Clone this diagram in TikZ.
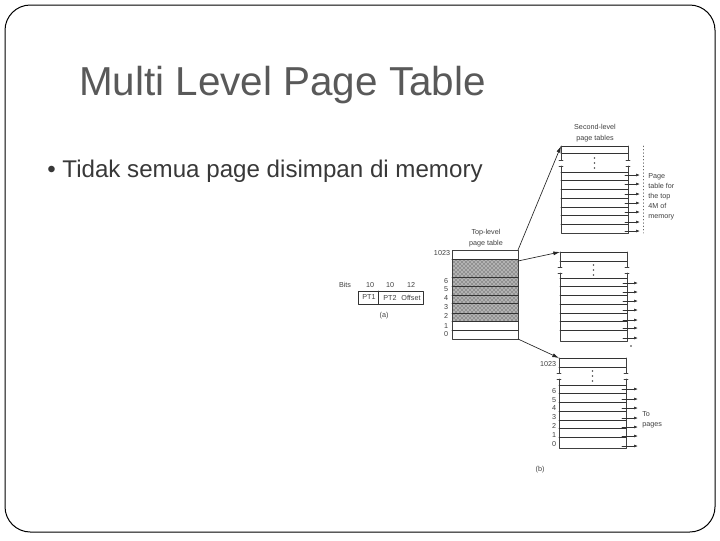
\documentclass[tikz,border=0pt]{standalone}
\usepackage{fontspec}
\setmainfont{Liberation Sans}
\usetikzlibrary{patterns,arrows.meta}
\tikzset{
  titletext/.style={anchor=base west,text=black!65,font=\fontsize{30.3}{33}\selectfont,inner sep=0pt},
  bullettext/.style={anchor=base west,text=black!78,font=\fontsize{18.1}{22}\selectfont,inner sep=0pt},
  small/.style={text=black!75,font=\fontsize{5.4}{6.6}\selectfont,inner sep=0pt,align=center},
  row/.style={line width=0.6pt,black!80},
  side/.style={line width=0.7pt,black!75},
  entry/.style={line width=0.5pt,black!80,-{Latex[length=3pt,width=2.2pt]}},
  link/.style={line width=0.5pt,black!85,-{Latex[length=5pt,width=3pt]}},
  hatch/.style={pattern=crosshatch dots,pattern color=black!85},
}
\begin{document}
\begin{tikzpicture}[x=0.75pt,y=-0.75pt,line cap=round,line join=round,>=latex]
  \useasboundingbox (0,0) rectangle (720,540);
  \draw[line width=0.75pt,rounded corners=19pt] (5,5) rectangle (715,532);
  \node[titletext] (title) at (79,95) {Multi Level Page Table};
  \node[bullettext] (bullet) at (47,177) {• Tidak semua page disimpan di memory};

  % address split
  \draw[line width=0.6pt,black!80] (358,291) rectangle (423,304);
  \draw[line width=0.6pt,black!80] (378,291) -- (378,304);
  \node[small] (bits) at (345,285) {Bits};
  \foreach \x/\t in {370/10,390/10,411/12}
    \node[small] at (\x,285) {\t};
  \foreach \x/\t in {369/PT1,390/PT2,411/Offset}
    \node[small] at (\x,297.5) {\t};
  \node[small] (parta) at (384,316) {(a)};

  % top-level table
  \fill[black!30] (452,260) rectangle (518,321);
  \fill[hatch] (452,260) rectangle (518,321);
  \draw[side] (452,250) rectangle (518,339);
  \foreach \y in {259,277,286,295,303,313,321,330}
    \draw[row] (452,\y) -- (518,\y);
  \coordinate (topa) at (518,250);
  \coordinate (topb) at (518,261);
  \coordinate (topc) at (518,339);
  \node[small] (toplabel) at (486,238) {Top-level\\[1.2pt]page table};
  \node[small] at (442,253) {1023};
  \foreach \y/\t in {281/6,289/5,298/4,307/3,316/2,326/1,334/0}
    \node[small] at (446,\y) {\t};

  % second-level tables
  \foreach \xa/\xb/\ya/\yb/\yc/\ye/\yf in {561/628/146/153/163/172/233,560/627/252/261/270/278/341,559/626/358/367/376/385/448} {
    \draw[row] (\xa,\ya) -- (\xb,\ya);
    \draw[row] (\xa,\yb) -- (\xb,\yb);
    \draw[side] (\xa,\ya) -- (\xa,\yc-3) (\xa,\yc+3) -- (\xa,\yf) -- (\xb,\yf) -- (\xb,\yc+3) (\xb,\yc-3) -- (\xb,\ya);
    \foreach \i in {0,...,6}
      \draw[row] (\xa,\ye+\i*8.75) -- (\xb,\ye+\i*8.75);
    \foreach \x in {\xa,\xb}
      \draw[line width=0.5pt,black!75] (\x-2,\yc-3) -- (\x+2,\yc-3) (\x-2,\yc+3) -- (\x+2,\yc+3);
    \foreach \d in {-5,0,5}
      \fill[black!70] (\xa/2+\xb/2,\yc+\d) circle (0.7pt);
  }
  \coordinate (seca) at (561,146);
  \coordinate (secb) at (560,252);
  \coordinate (secc) at (559,358);
  \draw[link] (topa) -- (seca);
  \draw[link] (topb) -- (secb);
  \draw[link] (topc) -- (secc);

  % page arrows
  \foreach \n/\xa/\xb/\y in {a/625/640/175,b/625/640/184,c/625/640/194,d/625/640/203,e/625/640/212,f/625/640/222,g/625/640/231,
      h/623/638/283,i/623/638/292,j/623/638/301,k/623/638/310,l/623/638/320,m/623/638/328,n/623/638/338,
      o/622/638/389,p/622/638/399,q/622/638/408,r/622/638/418,s/622/638/427,t/622/638/436,u/622/638/446} {
    \coordinate (from\n) at (\xa,\y);
    \coordinate (to\n) at (\xb,\y);
    \draw[entry] (from\n) -- (to\n);
  }
  \coordinate (bracea) at (643,146);
  \coordinate (braceb) at (643,233);
  \draw[line width=0.5pt,black!60,dotted] (bracea) -- (braceb);
  \fill[black!80] (631,346) circle (0.7pt);

  \node[small] (seclabel) at (595,133) {Second-level\\[1.2pt]page tables};
  \node[small,align=left,anchor=north west] (memlabel) at (648,173.5) {Page\\[0.8pt]table for\\[0.8pt]the top\\[0.8pt]4M of\\[0.8pt]memory};
  \node[small,align=left,anchor=west] (pageslabel) at (642,419.5) {To\\[1.2pt]pages};
  \node[small] at (548,364) {1023};
  \foreach \y/\t in {391/6,400/5,408/4,417/3,426/2,435/1,444/0}
    \node[small] at (554,\y) {\t};
  \node[small] (partb) at (540,470) {(b)};
\end{tikzpicture}
\end{document}
